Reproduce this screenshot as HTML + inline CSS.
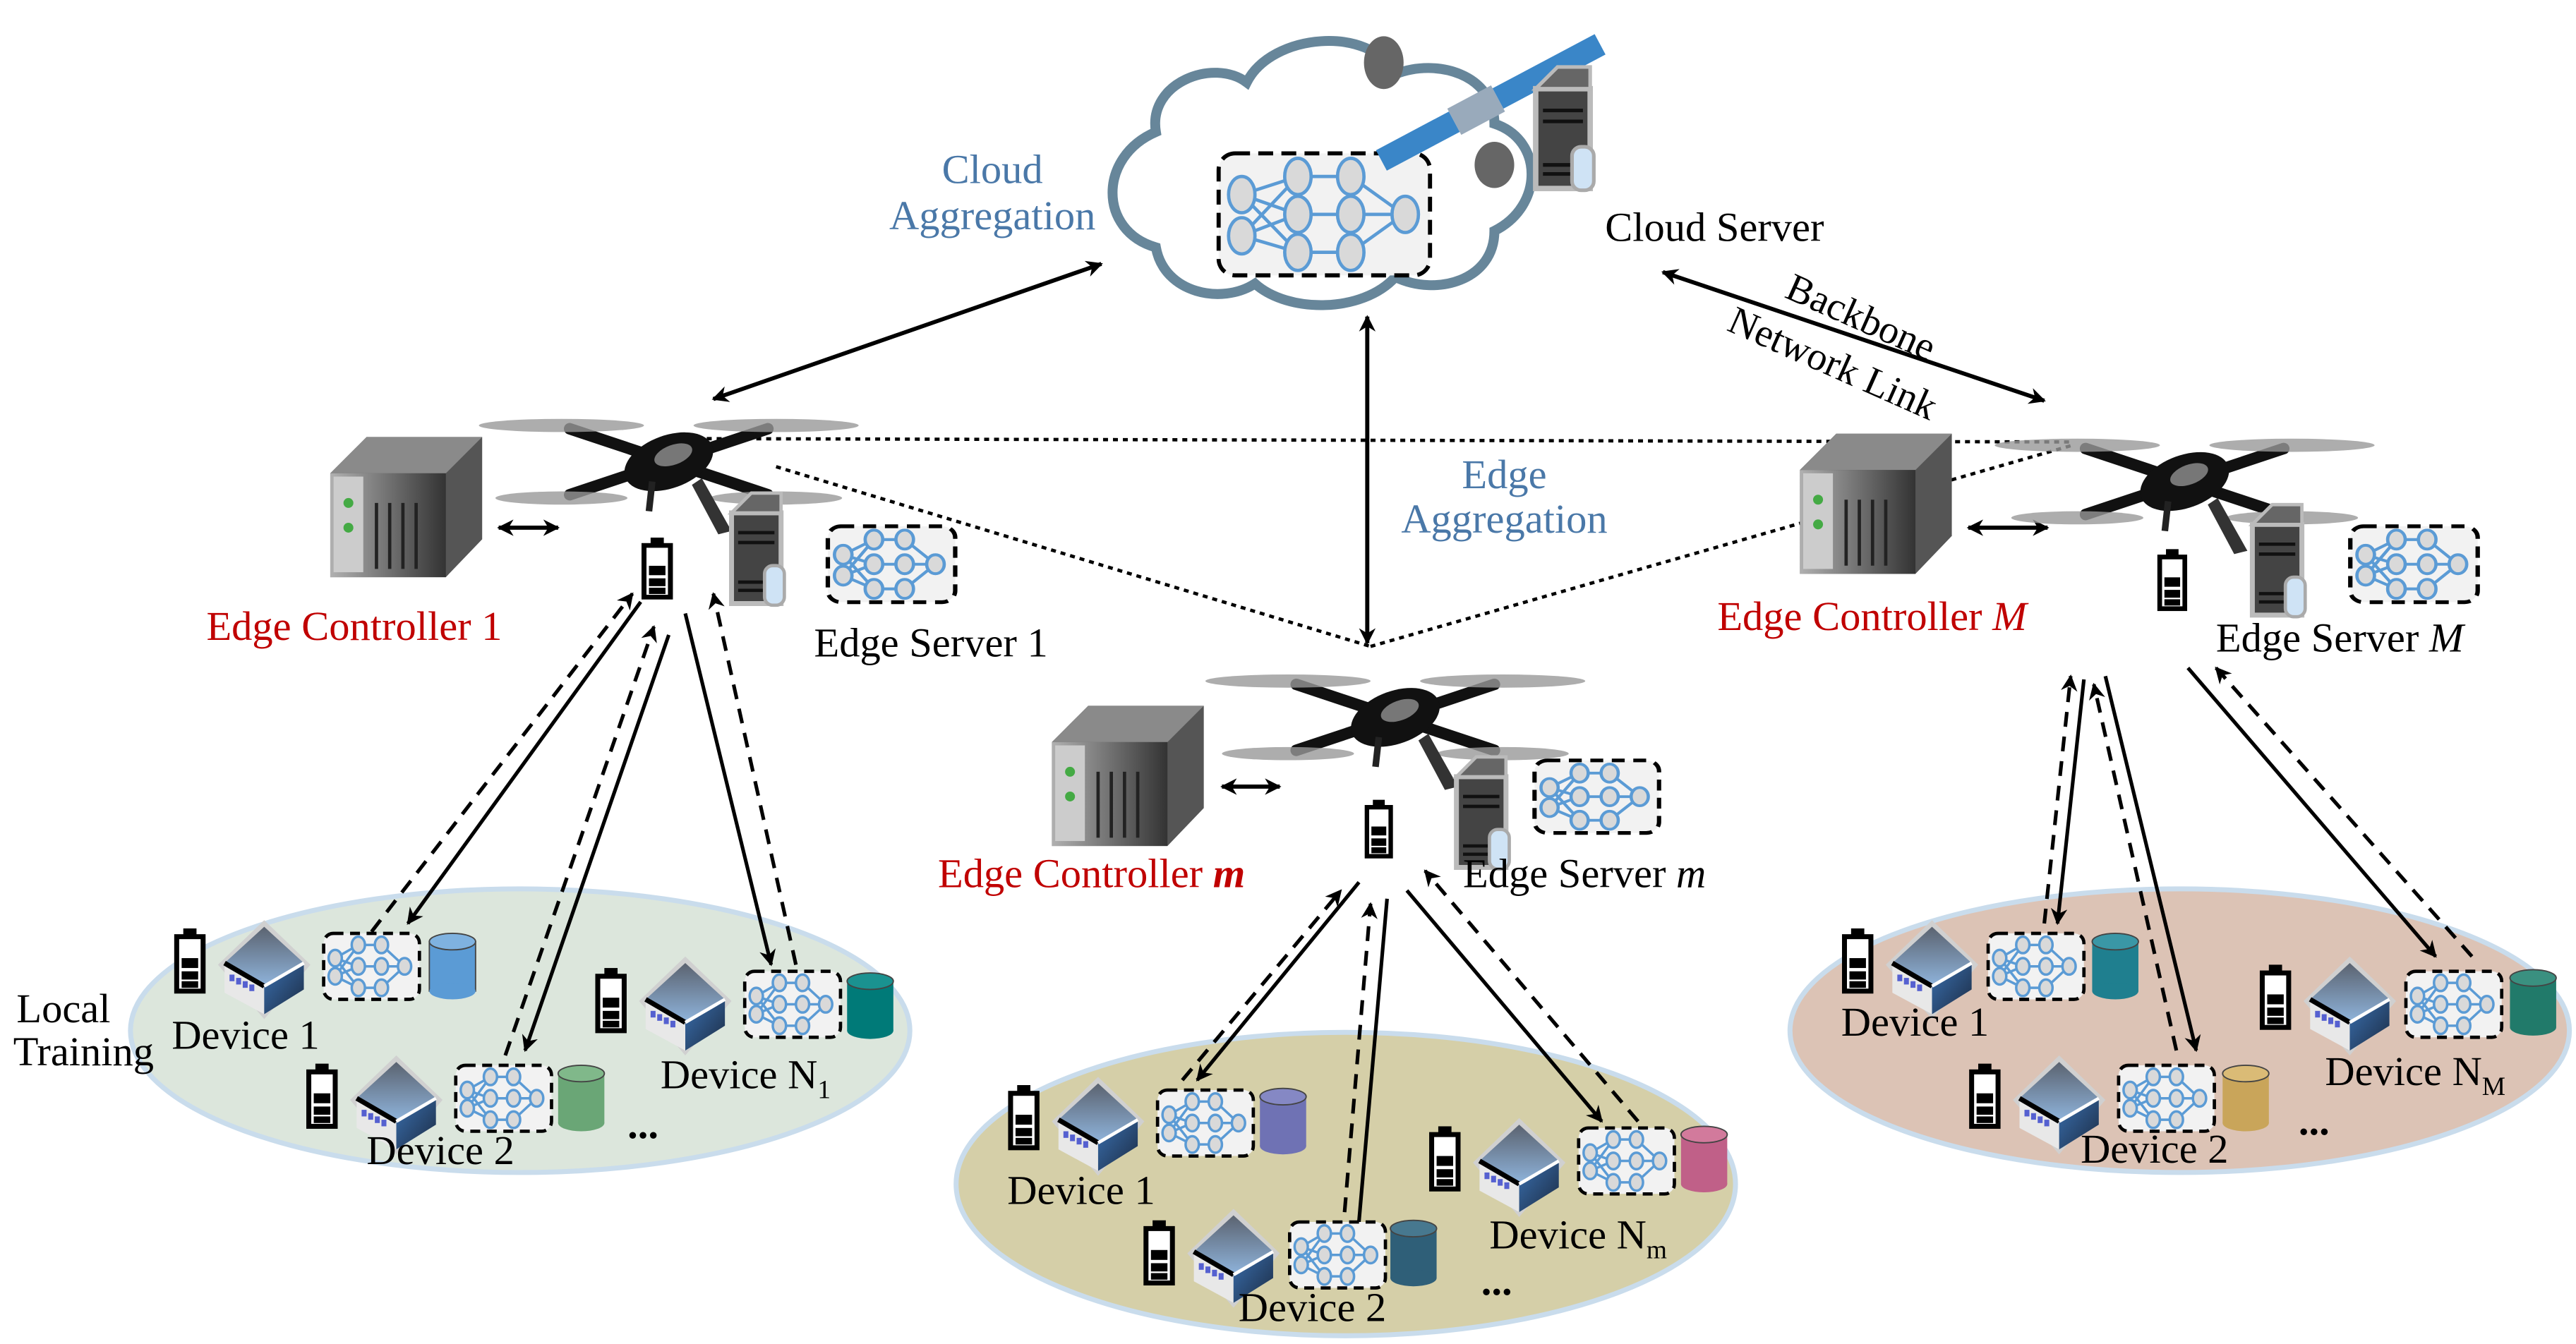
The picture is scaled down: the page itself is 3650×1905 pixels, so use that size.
<!DOCTYPE html>
<html><head><meta charset="utf-8"><style>
html,body{margin:0;padding:0;background:#fff;}
svg{display:block;}
text{font-family:"Liberation Serif",serif;}
</style></head><body>
<svg width="3650" height="1905" viewBox="0 0 1560 815" preserveAspectRatio="none" xmlns="http://www.w3.org/2000/svg">
<defs>
<marker id="ah" markerWidth="10" markerHeight="10" refX="9" refY="5" orient="auto-start-reverse" markerUnits="userSpaceOnUse"><path d="M0,0 L10,5 L0,10 L3,5 Z" fill="#000"/></marker>
<linearGradient id="cubeTop" x1="0" y1="0" x2="0" y2="1"><stop offset="0" stop-color="#5b6370"/><stop offset="1" stop-color="#8fb4dc"/></linearGradient>
<linearGradient id="cubeR" x1="0" y1="0" x2="1" y2="1"><stop offset="0" stop-color="#3a6fae"/><stop offset="1" stop-color="#1c2c44"/></linearGradient>
<linearGradient id="srv" x1="0" y1="0" x2="1" y2="0"><stop offset="0" stop-color="#b0b0b0"/><stop offset="1" stop-color="#333"/></linearGradient>
<g id="bat"><rect x="2" y="5" width="16" height="33" fill="#fff" stroke="#000" stroke-width="3"/><rect x="6" y="0" width="8" height="6" fill="#000"/><rect x="5" y="18" width="10" height="6" fill="#000"/><rect x="5" y="26" width="10" height="5" fill="#000"/><rect x="5" y="32" width="10" height="4" fill="#000"/></g>
<g id="cube"><path d="M30,0 L58,27 L30,60 L2,27 Z" fill="#d0d0d0"/><path d="M30,4 L54,26 L30,40 L6,26 Z" fill="url(#cubeTop)"/><path d="M6,26 L30,40 L30,57 L6,44 Z" fill="#e8e8e8"/><path d="M30,40 L54,26 L54,42 L30,57 Z" fill="url(#cubeR)"/><path d="M6,26 L30,40" stroke="#000" stroke-width="3"/><path d="M30,40 L54,26" stroke="#fff" stroke-width="2"/><rect x="9" y="33" width="3" height="4" fill="#5560d0"/><rect x="13" y="35" width="3" height="4" fill="#5560d0"/><rect x="17" y="37" width="3" height="4" fill="#5560d0"/><rect x="21" y="39" width="3" height="4" fill="#5560d0"/></g>
<g id="nn"><rect x="1" y="1" width="58" height="40" rx="6" fill="#f2f2f2" stroke="#000" stroke-width="2" stroke-dasharray="6,4"/>
<g stroke="#5b9bd5" stroke-width="1.5" fill="#d9d9d9"><path d="M8,16 L22,8 M8,16 L22,21 M8,16 L22,34 M8,27 L22,8 M8,27 L22,21 M8,27 L22,34 M36,8 L50,21 M36,21 L50,21 M36,34 L50,21 M22,8 L36,8 M22,21 L36,21 M22,34 L36,34"/>
<ellipse cx="8" cy="16" rx="4" ry="5"/><ellipse cx="8" cy="27" rx="4" ry="5"/><ellipse cx="22" cy="8" rx="4" ry="5"/><ellipse cx="22" cy="21" rx="4" ry="5"/><ellipse cx="22" cy="34" rx="4" ry="5"/><ellipse cx="36" cy="8" rx="4" ry="5"/><ellipse cx="36" cy="21" rx="4" ry="5"/><ellipse cx="36" cy="34" rx="4" ry="5"/><ellipse cx="50" cy="21" rx="4" ry="5"/></g></g>
<g id="ctrl"><path d="M0,22 L22,0 L92,0 L92,62 L70,85 L0,85 Z" fill="#555"/><path d="M0,22 L22,0 L92,0 L70,22 Z" fill="#8a8a8a"/><rect x="0" y="22" width="70" height="63" fill="url(#srv)"/><rect x="2" y="24" width="18" height="58" fill="#ccc"/><circle cx="11" cy="40" r="3" fill="#4a4"/><circle cx="11" cy="55" r="3" fill="#4a4"/><path d="M28,40 L28,80 M36,40 L36,80 M44,40 L44,80 M52,40 L52,80" stroke="#222" stroke-width="2"/></g>
<g id="tower"><rect x="0" y="8" width="30" height="55" fill="#444" stroke="#bbb" stroke-width="3"/><path d="M0,8 L12,-4 L30,-4 L30,8 Z" fill="#666" stroke="#bbb" stroke-width="2"/><path d="M4,20 L26,20 M4,26 L26,26 M4,50 L26,50 M4,55 L26,55" stroke="#111" stroke-width="2"/><rect x="20" y="40" width="12" height="24" rx="5" fill="#cfe3f5" stroke="#aaa" stroke-width="2"/></g>
<g id="drone"><g stroke="#111" stroke-width="7" stroke-linecap="round"><path d="M-60,-20 L60,20 M-60,20 L60,-20"/></g>
<ellipse cx="-65" cy="-22" rx="50" ry="4" fill="#999" opacity="0.8"/><ellipse cx="65" cy="-22" rx="50" ry="4" fill="#999" opacity="0.8"/><ellipse cx="-65" cy="22" rx="40" ry="4" fill="#999" opacity="0.8"/><ellipse cx="65" cy="22" rx="40" ry="4" fill="#999" opacity="0.8"/>
<ellipse cx="0" cy="0" rx="28" ry="16" fill="#111" transform="rotate(-20)"/><ellipse cx="4" cy="-3" rx="12" ry="6" fill="#777" transform="rotate(-20)"/><path d="M20,10 L38,42 L30,44 L14,14 Z" fill="#333"/><path d="M-10,12 L-12,30" stroke="#222" stroke-width="4"/></g>
</defs>

<!-- ellipses -->
<ellipse cx="315" cy="625" rx="236" ry="86" fill="#dce6dc" stroke="#c9dcec" stroke-width="3"/>
<ellipse cx="815" cy="718" rx="236" ry="92" fill="#d5cfa8" stroke="#c9dcec" stroke-width="3"/>
<ellipse cx="1320" cy="625" rx="236" ry="86" fill="#dcc3b5" stroke="#c9dcec" stroke-width="3"/>

<!-- cloud -->
<path d="M700,150 C665,140 665,95 700,80 C695,50 735,35 755,50 C770,20 830,15 845,45 C870,35 905,45 905,75 C935,85 935,125 905,140 C905,170 870,180 845,168 C825,190 780,190 760,172 C740,185 705,178 700,150 Z" fill="#fff" stroke="#67869a" stroke-width="6"/>
<rect x="738" y="93" width="128" height="74" rx="10" fill="#f2f2f2" stroke="#000" stroke-width="2.5" stroke-dasharray="9,5"/>
<g stroke="#5b9bd5" stroke-width="2" fill="#d9d9d9"><path d="M752,118 L786,107 M752,118 L786,130 M752,118 L786,153 M752,143 L786,107 M752,143 L786,130 M752,143 L786,153 M818,107 L850,130 M818,130 L850,130 M818,153 L850,130 M786,107 L818,107 M786,130 L818,130 M786,153 L818,153"/>
<ellipse cx="752" cy="118" rx="8" ry="11"/><ellipse cx="752" cy="143" rx="8" ry="11"/><ellipse cx="786" cy="107" rx="8" ry="11"/><ellipse cx="786" cy="130" rx="8" ry="11"/><ellipse cx="786" cy="153" rx="8" ry="11"/><ellipse cx="818" cy="107" rx="8" ry="11"/><ellipse cx="818" cy="130" rx="8" ry="11"/><ellipse cx="818" cy="153" rx="8" ry="11"/><ellipse cx="851" cy="130" rx="8" ry="11"/></g>
<!-- satellite -->
<g transform="translate(890,70) rotate(-28)"><rect x="-60" y="-8" width="50" height="14" fill="#3a86c8"/><rect x="-10" y="-10" width="30" height="18" fill="#9ab"/><rect x="20" y="-8" width="70" height="14" fill="#3a86c8"/></g>
<ellipse cx="838" cy="38" rx="12" ry="16" fill="#666"/><ellipse cx="905" cy="100" rx="12" ry="14" fill="#666"/>
<use href="#tower" transform="translate(930,45) scale(1.1)"/>

<text x="601" y="111" font-size="25" fill="#4a78a8" text-anchor="middle">Cloud</text>
<text x="601" y="139" font-size="25" fill="#4a78a8" text-anchor="middle">Aggregation</text>
<text x="972" y="146" font-size="25">Cloud Server</text>
<text x="911" y="296" font-size="25" fill="#4a78a8" text-anchor="middle">Edge</text>
<text x="911" y="323" font-size="25" fill="#4a78a8" text-anchor="middle">Aggregation</text>
<text font-size="24" transform="translate(1080,180) rotate(24)">Backbone</text>
<text font-size="24" transform="translate(1045,200) rotate(24)">Network Link</text>

<!-- dotted lines -->
<g stroke="#000" stroke-width="2" stroke-dasharray="3,3" fill="none"><path d="M428,266 L1255,268"/><path d="M470,283 L830,392"/><path d="M830,392 L1255,270"/></g>

<!-- big double arrows -->
<g stroke="#000" stroke-width="2.5" fill="none" marker-start="url(#ah)" marker-end="url(#ah)"><path d="M432,242 L667,160"/><path d="M828,192 L828,390"/><path d="M1007,165 L1238,243"/><path d="M302,320 L338,320"/><path d="M740,477 L775,477"/><path d="M1192,320 L1240,320"/></g>

<!-- edge nodes -->
<use href="#ctrl" transform="translate(200,265)"/><use href="#ctrl" transform="translate(637,428)"/><use href="#ctrl" transform="translate(1090,263)"/>
<rect x="355" y="325" width="63" height="50" fill="#fff"/><rect x="800" y="485" width="55" height="45" fill="#fff"/><rect x="1275" y="330" width="65" height="50" fill="#fff"/>
<use href="#drone" transform="translate(405,280)"/><use href="#drone" transform="translate(845,435)"/><use href="#drone" transform="translate(1323,292)"/>
<use href="#bat" transform="translate(388,326) scale(1,0.95)"/><use href="#bat" transform="translate(826,485) scale(0.9)"/><use href="#bat" transform="translate(1306,333) scale(0.95)"/>
<use href="#tower" transform="translate(443,303)"/><use href="#tower" transform="translate(882,463)"/><use href="#tower" transform="translate(1364,310)"/>
<use href="#nn" transform="translate(500,318) scale(1.33,1.15)"/><use href="#nn" transform="translate(928,460) scale(1.3,1.1)"/><use href="#nn" transform="translate(1422,318) scale(1.33,1.15)"/>

<text x="125" y="388" font-size="25" fill="#c00000">Edge Controller 1</text>
<text x="493" y="398" font-size="25">Edge Server 1</text>
<text x="568" y="538" font-size="25" fill="#c00000">Edge Controller <tspan font-style="italic" font-weight="bold">m</tspan></text>
<text x="886" y="538" font-size="25">Edge Server <tspan font-style="italic">m</tspan></text>
<text x="1040" y="382" font-size="25" fill="#c00000">Edge Controller <tspan font-style="italic">M</tspan></text>
<text x="1342" y="395" font-size="25">Edge Server <tspan font-style="italic">M</tspan></text>

<!-- device links -->
<g stroke="#000" stroke-width="2.2" fill="none" marker-end="url(#ah)">
<path d="M388,365 L247,560"/><path d="M405,385 L318,637"/><path d="M415,372 L467,585"/>
<path d="M823,535 L725,655"/><path d="M840,545 L822,752"/><path d="M852,540 L970,680"/>
<path d="M1262,412 L1246,560"/><path d="M1275,410 L1330,637"/><path d="M1325,405 L1475,580"/>
</g>
<g stroke="#000" stroke-width="2.2" fill="none" stroke-dasharray="9,6" marker-end="url(#ah)">
<path d="M225,565 L383,360"/><path d="M306,640 L396,380"/><path d="M482,585 L432,360"/>
<path d="M716,655 L812,540"/><path d="M813,750 L830,548"/><path d="M992,680 L863,528"/>
<path d="M1238,560 L1254,410"/><path d="M1318,637 L1268,415"/><path d="M1497,580 L1342,405"/>
</g>

<!-- devices -->
<g id="devs">
<use href="#bat" transform="translate(105,563)"/><use href="#cube" transform="translate(130,558)"/><use href="#nn" transform="translate(195,565)"/><g transform="translate(260,566)"><rect x="0" y="5" width="28" height="30" fill="#5b9bd5" stroke="#444" stroke-width="0.8"/><ellipse cx="14" cy="5" rx="14" ry="5" fill="#7fb2e0" stroke="#444" stroke-width="0.8"/><ellipse cx="14" cy="35" rx="14" ry="5" fill="#5b9bd5"/></g>
<use href="#bat" transform="translate(360,587)"/><use href="#cube" transform="translate(385,580)"/><use href="#nn" transform="translate(450,588)"/><g transform="translate(513,590)"><rect x="0" y="5" width="28" height="30" fill="#007a78"/><ellipse cx="14" cy="5" rx="14" ry="5" fill="#1a9290" stroke="#444" stroke-width="0.8"/><ellipse cx="14" cy="35" rx="14" ry="5" fill="#007a78"/></g>
<use href="#bat" transform="translate(185,645)"/><use href="#cube" transform="translate(210,640)"/><use href="#nn" transform="translate(275,645)"/><g transform="translate(338,646)"><rect x="0" y="5" width="28" height="30" fill="#6aa676"/><ellipse cx="14" cy="5" rx="14" ry="5" fill="#80b88a" stroke="#444" stroke-width="0.8"/><ellipse cx="14" cy="35" rx="14" ry="5" fill="#6aa676"/></g>

<use href="#bat" transform="translate(610,658)"/><use href="#cube" transform="translate(635,653)"/><use href="#nn" transform="translate(700,660)"/><g transform="translate(763,660)"><rect x="0" y="5" width="28" height="30" fill="#6f72b4"/><ellipse cx="14" cy="5" rx="14" ry="5" fill="#8588c4" stroke="#444" stroke-width="0.8"/><ellipse cx="14" cy="35" rx="14" ry="5" fill="#6f72b4"/></g>
<use href="#bat" transform="translate(865,683)"/><use href="#cube" transform="translate(890,678)"/><use href="#nn" transform="translate(955,683)"/><g transform="translate(1018,683)"><rect x="0" y="5" width="28" height="30" fill="#c06088"/><ellipse cx="14" cy="5" rx="14" ry="5" fill="#d27a9c" stroke="#444" stroke-width="0.8"/><ellipse cx="14" cy="35" rx="14" ry="5" fill="#c06088"/></g>
<use href="#bat" transform="translate(692,740)"/><use href="#cube" transform="translate(717,733)"/><use href="#nn" transform="translate(780,740)"/><g transform="translate(842,740)"><rect x="0" y="5" width="28" height="30" fill="#2f5f78"/><ellipse cx="14" cy="5" rx="14" ry="5" fill="#47788f" stroke="#444" stroke-width="0.8"/><ellipse cx="14" cy="35" rx="14" ry="5" fill="#2f5f78"/></g>

<use href="#bat" transform="translate(1115,563)"/><use href="#cube" transform="translate(1140,558)"/><use href="#nn" transform="translate(1203,565)"/><g transform="translate(1267,566)"><rect x="0" y="5" width="28" height="30" fill="#1f7f8f"/><ellipse cx="14" cy="5" rx="14" ry="5" fill="#3a97a6" stroke="#444" stroke-width="0.8"/><ellipse cx="14" cy="35" rx="14" ry="5" fill="#1f7f8f"/></g>
<use href="#bat" transform="translate(1368,585)"/><use href="#cube" transform="translate(1393,580)"/><use href="#nn" transform="translate(1456,588)"/><g transform="translate(1520,588)"><rect x="0" y="5" width="28" height="30" fill="#217a6a"/><ellipse cx="14" cy="5" rx="14" ry="5" fill="#3a9080" stroke="#444" stroke-width="0.8"/><ellipse cx="14" cy="35" rx="14" ry="5" fill="#217a6a"/></g>
<use href="#bat" transform="translate(1192,645)"/><use href="#cube" transform="translate(1217,640)"/><use href="#nn" transform="translate(1282,645)"/><g transform="translate(1346,646)"><rect x="0" y="5" width="28" height="30" fill="#c9a55a"/><ellipse cx="14" cy="5" rx="14" ry="5" fill="#dabb76" stroke="#444" stroke-width="0.8"/><ellipse cx="14" cy="35" rx="14" ry="5" fill="#c9a55a"/></g>
</g>

<g font-size="25">
<text x="10" y="620">Local</text><text x="8" y="646">Training</text>
<text x="104" y="636">Device 1</text>
<text x="400" y="660">Device N<tspan font-size="16" dy="6">1</tspan></text>
<text x="222" y="706">Device 2</text>
<text x="380" y="690" font-weight="bold">...</text>
<text x="610" y="730">Device 1</text>
<text x="902" y="757">Device N<tspan font-size="16" dy="6">m</tspan></text>
<text x="750" y="801">Device 2</text>
<text x="897" y="785" font-weight="bold">...</text>
<text x="1115" y="628">Device 1</text>
<text x="1408" y="658">Device N<tspan font-size="16" dy="6">M</tspan></text>
<text x="1260" y="705">Device 2</text>
<text x="1392" y="688" font-weight="bold">...</text>
</g>
</svg>
</body></html>
